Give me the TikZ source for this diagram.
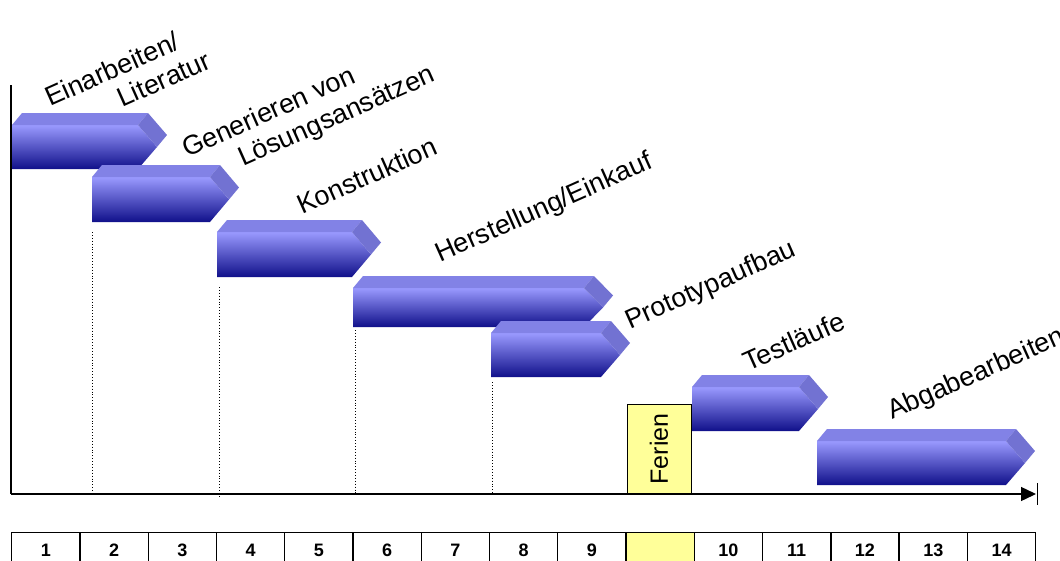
\documentclass[tikz,border=0pt]{standalone}
\usepackage{fontspec}
\setmainfont{Liberation Sans}
\usetikzlibrary{arrows.meta}
\definecolor{topface}{HTML}{8282E6}
\definecolor{tipface}{HTML}{7272D2}
\definecolor{barlight}{HTML}{9A9AFF}
\definecolor{barmid}{HTML}{7676E8}
\definecolor{bardark}{HTML}{10108A}
\definecolor{ferienyellow}{HTML}{FFFF99}
\newcommand\gbar[4]{%
  \pgfmathsetmacro\ym{(#3+#4)/2}%
  \shade[top color=barlight, middle color=barmid, bottom color=bardark]
    (#1,#3) -- (#2,#3) -- (#2+19,\ym) -- (#2,#4) -- (#1,#4) -- cycle;
  \fill[topface] (#1,#3) -- (#1+10,#3-12) -- (#2+10,#3-12) -- (#2,#3) -- cycle;
  \fill[tipface] (#2,#3) -- (#2+10,#3-12) -- (#2+29,\ym-12) -- (#2+19,\ym) -- cycle;
}
\tikzset{
  lab/.style={anchor=base west, rotate=24, inner sep=0pt, font=\fontsize{27}{32}\selectfont},
  cell/.style={draw, line width=1.3pt, minimum width=68.27pt, minimum height=36pt, inner sep=0pt, anchor=north west, font=\fontsize{18}{20}\selectfont\bfseries},
  holiday/.style={cell, fill=ferienyellow},
  guide/.style={dotted, line width=0.9pt},
  axis/.style={line width=1.4pt}
}
\begin{document}
\begin{tikzpicture}[x=1pt,y=-1pt]
\useasboundingbox (0,0) rectangle (1060,560);
\clip (0,0) rectangle (1060,560);
% bars
\gbar{12}{138}{125}{169}
\gbar{92}{210}{177}{222}
\gbar{217}{352}{232}{277}
\gbar{353}{584}{288}{327}
\gbar{491}{601}{333}{377}
\gbar{692}{799}{387}{431}
\gbar{817}{1006}{441}{485}
% dotted guides
\coordinate (g1t) at (92,232);  \coordinate (g1b) at (92,494);
\coordinate (g2t) at (219,287); \coordinate (g2b) at (219,498);
\coordinate (g3t) at (355,330); \coordinate (g3b) at (355,494);
\coordinate (g4t) at (492,382); \coordinate (g4b) at (492,494);
\draw[guide] (g1t) -- (g1b);
\draw[guide] (g2t) -- (g2b);
\draw[guide] (g3t) -- (g3b);
\draw[guide] (g4t) -- (g4b);
% holiday box
\node (ferien) [draw, fill=ferienyellow, line width=0.9pt, rotate=90, minimum width=90pt, minimum height=64pt, inner sep=0pt, font=\fontsize{25}{28}\selectfont] at (659,449) {Ferien};
% axes
\coordinate (top) at (11,85);
\coordinate (origin) at (11,494);
\coordinate (xend) at (1036,494);
\draw[axis] (top) -- (origin);
\draw[axis, -{Triangle[length=15pt,width=14pt]}] (origin) -- (xend);
\draw[axis] ([shift={(1.5,-11)}]xend) -- ([shift={(1.5,11)}]xend);
% labels
\node[lab] (l1a) at (50,107) {Einarbeiten/};
\node[lab] (l1b) at (122,108) {Literatur};
\node[lab] (l2a) at (187,158) {Generieren von};
\node[lab] (l2b) at (243,167) {Lösungsansätzen};
\node[lab] (l3) at (302,215) {Konstruktion};
\node[lab] (l4) at (440,263) {Herstellung/Einkauf};
\node[lab] (l5) at (630,330) {Prototypaufbau};
\node[lab] (l6) at (748,372) {Testläufe};
\node[lab] (l7) at (892,420) {Abgabearbeiten};
% week table
\foreach \t/\s [count=\i from 0] in {1/cell,2/cell,3/cell,4/cell,5/cell,6/cell,7/cell,8/cell,9/cell,/holiday,10/cell,11/cell,12/cell,13/cell,14/cell}
  \node[\s] (c\i) at ({11+\i*68.2667},532) {\t};
\end{tikzpicture}
\end{document}
